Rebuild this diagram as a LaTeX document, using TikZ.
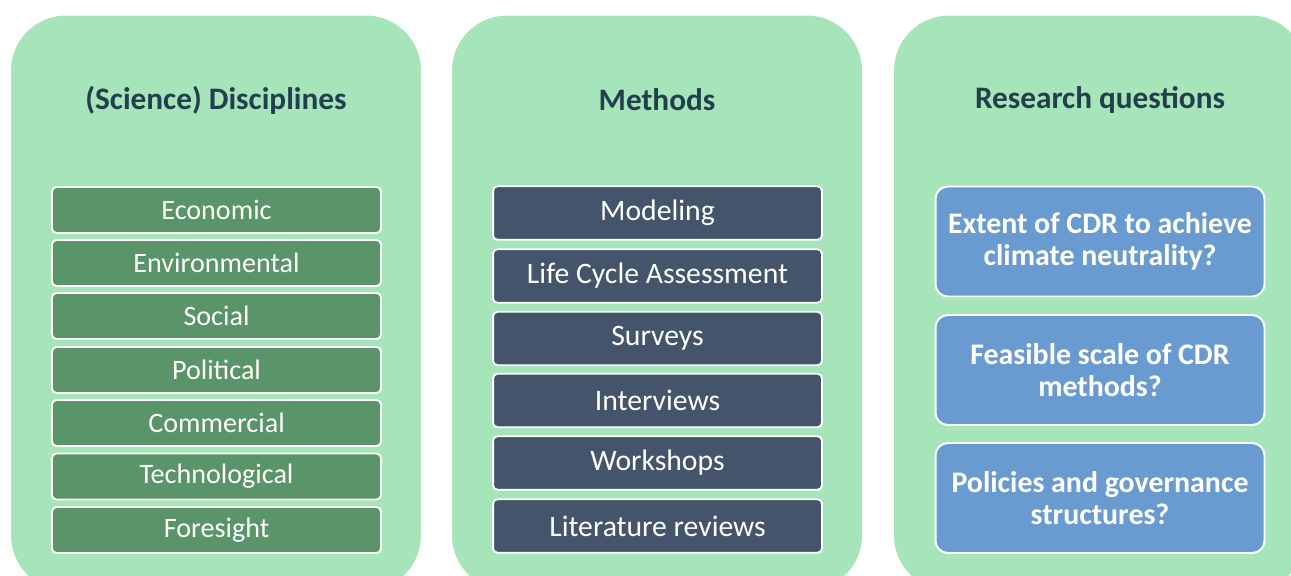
\documentclass[tikz,border=0pt]{standalone}
\usepackage{fontspec}
\setmainfont{Carlito}
\definecolor{panelgreen}{HTML}{A6E4B9}
\definecolor{titleink}{HTML}{233F4E}
\definecolor{discgreen}{HTML}{5A9469}
\definecolor{methnavy}{HTML}{44546A}
\definecolor{qblue}{HTML}{6A9BD0}
\tikzset{
  panel/.style={rectangle, rounded corners=1.1cm, fill=panelgreen, draw=none,
    minimum width=8.2cm, minimum height=11.5cm, inner sep=0pt},
  paneltitle/.style={font=\fontsize{17.8}{20}\selectfont\bfseries, text=titleink},
  itembox/.style={rectangle, rounded corners=2.5pt, draw=white, line width=1.1pt,
    text=white, minimum width=6.58cm, inner sep=0pt},
  discbox/.style={itembox, fill=discgreen, minimum height=0.92cm,
    font=\fontsize{16}{19}\selectfont},
  methbox/.style={itembox, fill=methnavy, minimum height=1.07cm,
    font=\fontsize{16.9}{20}\selectfont},
  qbox/.style={itembox, fill=qblue, rounded corners=7pt, minimum height=2.2cm,
    align=center, font=\fontsize{17}{18.3}\selectfont\bfseries},
}
\begin{document}
\begin{tikzpicture}[x=0.02cm, y=-0.02cm]
\useasboundingbox (0,0) rectangle (1291,575);
\clip (0,0) rectangle (1291,575);
\fill[white] (0,0) rectangle (1291,575);

% three background panels
\node[panel] (p1) at (216,303) {};
\node[panel] (p2) at (657,303) {};
\node[panel, minimum width=8.24cm] (p3) at (1100,303) {};

% column headings
\node[paneltitle] (t1) at (216,100) {(Science) Disciplines};
\node[paneltitle] (t2) at (657,100) {Methods};
\node[paneltitle] (t3) at (1100,100) {Research questions};

% disciplines
\node[discbox] (d1) at (216.5,210) {Economic};
\node[discbox] (d2) at (216.5,263) {Environmental};
\node[discbox] (d3) at (216.5,316) {Social};
\node[discbox] (d4) at (216.5,370) {Political};
\node[discbox] (d5) at (216.5,423) {Commercial};
\node[discbox] (d6) at (216.5,476.5) {Technological};
\node[discbox] (d7) at (216.5,530) {Foresight};

% methods
\node[methbox] (m1) at (657.5,213) {Modeling};
\node[methbox] (m2) at (657.5,276) {Life Cycle Assessment};
\node[methbox] (m3) at (657.5,338.5) {Surveys};
\node[methbox] (m4) at (657.5,400.5) {Interviews};
\node[methbox] (m5) at (657.5,463) {Workshops};
\node[methbox] (m6) at (657.5,526) {Literature reviews};

% research questions
\node[qbox] (q1) at (1100,241.5) {Extent of CDR to achieve\\climate neutrality?};
\node[qbox] (q2) at (1100,370) {Feasible scale of CDR\\methods?};
\node[qbox] (q3) at (1100,498) {Policies and governance\\structures?};
\end{tikzpicture}
\end{document}
